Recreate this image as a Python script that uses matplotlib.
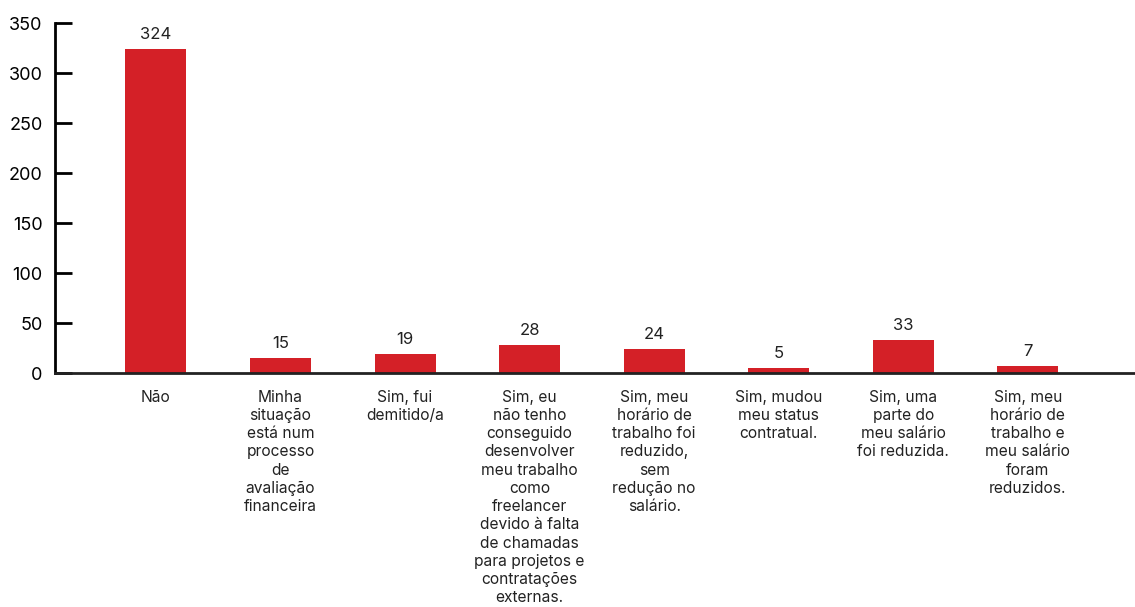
import matplotlib.pyplot as plt

plt.rcParams['font.family'] = ['Inter', 'DejaVu Sans']

categories = [
    "Não",
    "Minha\nsituação\nestá num\nprocesso\nde\navaliação\nfinanceira",
    "Sim, fui\ndemitido/a",
    "Sim, eu\nnão tenho\nconseguido\ndesenvolver\nmeu trabalho\ncomo\nfreelancer\ndevido à falta\nde chamadas\npara projetos e\ncontratações\nexternas.",
    "Sim, meu\nhorário de\ntrabalho foi\nreduzido,\nsem\nredução no\nsalário.",
    "Sim, mudou\nmeu status\ncontratual.",
    "Sim, uma\nparte do\nmeu salário\nfoi reduzida.",
    "Sim, meu\nhorário de\ntrabalho e\nmeu salário\nforam\nreduzidos.",
]
values = [324, 15, 19, 28, 24, 5, 33, 7]
yticks = [0, 50, 100, 150, 200, 250, 300, 350]

fig = plt.figure(figsize=(11.35, 6.07), dpi=100)
ax = fig.add_axes([55 / 1135, 234 / 607, 1080 / 1135, 350 / 607])

x = list(range(len(categories)))
bars = ax.bar(x, values, width=0.49, color='#d42027')

for b, v in zip(bars, values):
    ax.annotate(str(v), (b.get_x() + b.get_width() / 2, v), xytext=(0, 5),
                textcoords='offset points', ha='center', va='bottom',
                fontsize=12, color='#222222')

ax.set_xlim(-0.81, 7.86)
ax.set_ylim(0, 350)
ax.set_yticks(yticks)
ax.tick_params(axis='y', direction='in', length=12, width=2, labelsize=13, pad=9)
ax.set_xticks(x)
ax.set_xticklabels(categories, fontsize=11.2, linespacing=1.27, color='#222222')
ax.tick_params(axis='x', length=0, pad=12)

for s in ['top', 'right']:
    ax.spines[s].set_visible(False)
ax.spines['left'].set_linewidth(2)
ax.spines['bottom'].set_linewidth(2)
ax.spines['bottom'].set_color('#222222')

fig.savefig('out.png', dpi=100)
